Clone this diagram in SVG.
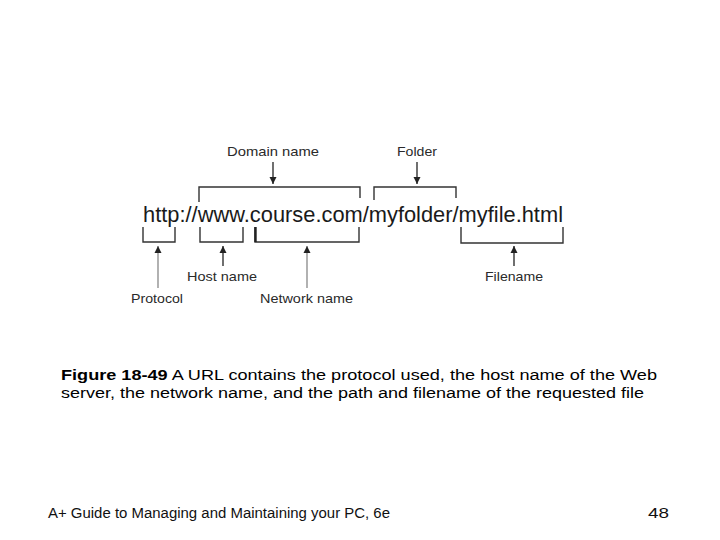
<svg xmlns="http://www.w3.org/2000/svg" width="720" height="540" viewBox="0 0 720 540">
<defs>
<marker id="ah" viewBox="0 0 10 10" refX="10" refY="5" markerWidth="7" markerHeight="9" markerUnits="userSpaceOnUse" orient="auto">
<path d="M0,0 L10,5 L0,10 Z" fill="#222"/>
</marker>
<style>
.lbl{font-family:"Liberation Sans",Arial,sans-serif;font-size:13.5px;fill:#2a2a2a}
.url{font-family:"Liberation Sans",Arial,sans-serif;font-size:21.5px;fill:#1a1a1a}
.br{fill:none;stroke:#333;stroke-width:1.4}
.ar{stroke:#222;stroke-width:1.3;marker-end:url(#ah)}
.arg{stroke:#888;stroke-width:1.3;marker-end:url(#ah)}
.cap{font-family:"Liberation Sans",Arial,sans-serif;font-size:15.5px;fill:#000}
.ftr{font-family:"Liberation Sans",Arial,sans-serif;font-size:14px;fill:#111}
</style>
</defs>
<rect width="720" height="540" fill="#fff"/>
<g id="url"><text class="url" x="143" y="222" textLength="420" lengthAdjust="spacingAndGlyphs">http://www.course.com/myfolder/myfile.html</text></g>
<g id="domain-name"><text class="lbl" x="227" y="156" textLength="92" lengthAdjust="spacingAndGlyphs">Domain name</text></g>
<g id="folder"><text class="lbl" x="397" y="156" textLength="40" lengthAdjust="spacingAndGlyphs">Folder</text></g>
<g id="host-name"><text class="lbl" x="187" y="281" textLength="70" lengthAdjust="spacingAndGlyphs">Host name</text></g>
<g id="protocol"><text class="lbl" x="131" y="303" textLength="52" lengthAdjust="spacingAndGlyphs">Protocol</text></g>
<g id="network-name"><text class="lbl" x="260" y="303" textLength="93" lengthAdjust="spacingAndGlyphs">Network name</text></g>
<g id="filename"><text class="lbl" x="485" y="281" textLength="58" lengthAdjust="spacingAndGlyphs">Filename</text></g>
<g id="connectors">
<path class="br" d="M199,202 V187 H360 V198"/>
<path class="br" d="M374,200 V187 H456 V198"/>
<path class="br" d="M143,227 V242 H175 V227"/>
<path class="br" d="M200,227 V242 H243 V227"/>
<path class="br" d="M255,227 V242 H359 V227"/>
<path d="M255.5,227 V242" stroke="#222" stroke-width="2.4"/>
<path class="br" d="M461,227 V243 H563 V227"/>
<line class="ar" x1="273" y1="162" x2="273" y2="184"/>
<line class="ar" x1="417" y1="162" x2="417" y2="184"/>
<line class="arg" x1="158" y1="288" x2="158" y2="246"/>
<line class="ar" x1="223" y1="266" x2="223" y2="246"/>
<line class="arg" x1="307" y1="288" x2="307" y2="246"/>
<line class="ar" x1="514" y1="266" x2="514" y2="246"/>
</g>
<g id="caption">
<text class="cap" x="61" y="380" textLength="596" lengthAdjust="spacingAndGlyphs"><tspan font-weight="bold">Figure 18-49</tspan> A URL contains the protocol used, the host name of the Web</text>
<text class="cap" x="61" y="398" textLength="583" lengthAdjust="spacingAndGlyphs">server, the network name, and the path and filename of the requested file</text>
</g>
<g id="footer">
<text class="ftr" x="48" y="518" textLength="342" lengthAdjust="spacingAndGlyphs">A+ Guide to Managing and Maintaining your PC, 6e</text>
<text class="ftr" x="648" y="518" textLength="21" lengthAdjust="spacingAndGlyphs">48</text>
</g>
</svg>
